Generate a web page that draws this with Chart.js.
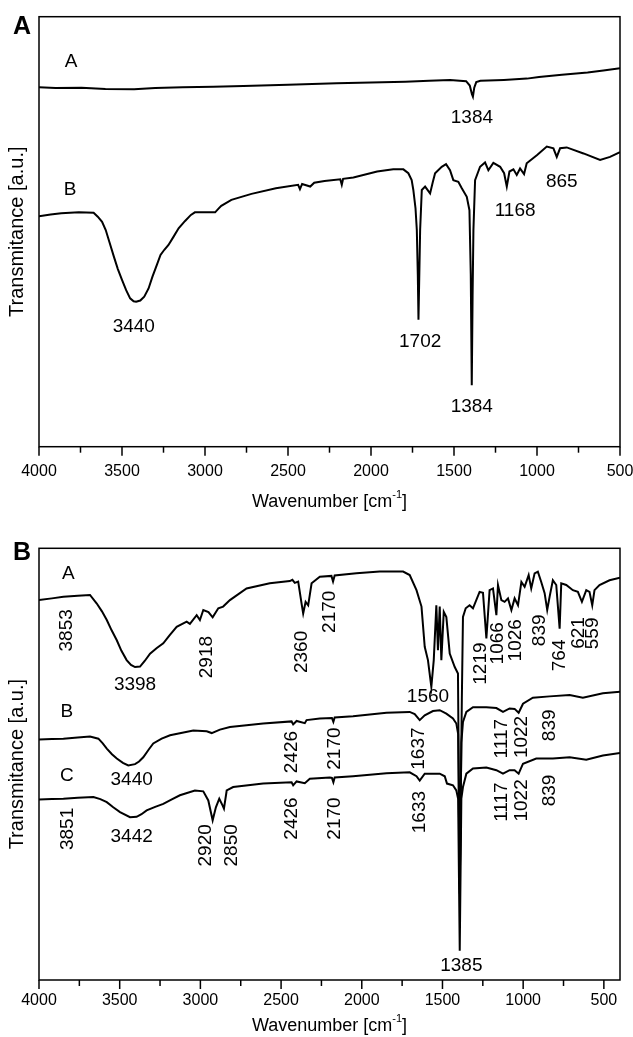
<!DOCTYPE html>
<html>
<head>
<meta charset="utf-8">
<script src="https://cdn.jsdelivr.net/npm/chart.js@4"></script>
<style>
  html, body { margin: 0; padding: 0; background: #fff; }
  body { width: 633px; height: 1037px; position: relative; overflow: hidden; }
  .panel { position: absolute; left: 0; width: 633px; }
  #panel-a { top: 0; height: 515px; }
  #panel-b { top: 515px; height: 522px; }
</style>
</head>
<body>
<div class="panel" id="panel-a"><canvas id="chart-a" width="633" height="515"></canvas></div>
<div class="panel" id="panel-b"><canvas id="chart-b" width="633" height="522"></canvas></div>
<script>
// x axis tick labels (wavenumber, cm-1), minor ticks every 250
const tickValues = [4000, 3500, 3000, 2500, 2000, 1500, 1000, 500];
const minorStep = 250;

// panel A spectra: [wavenumber, transmittance a.u.]
const aSpecA = [[4000,83.6],[3900,83.4],[3744,83.5],[3600,83.2],[3427,83.1],[3300,83.4],[3134,83.6],[2950,83.7],[2768,83.9],[2500,84.2],[2207,84.5],[2000,84.7],[1793,84.9],[1650,85.1],[1524,85.3],[1427,85.0],[1405,84.0],[1392,82.0],[1386,81.4],[1378,83.5],[1366,84.8],[1341,85.1],[1200,85.3],[1061,85.6],[988,86.0],[850,86.5],[695,87.0],[600,87.5],[500,88.0]];

const aSpecB = [[4000,53.6],[3930,54.0],[3866,54.3],[3760,54.5],[3671,54.4],[3646,53.5],[3620,52.3],[3598,50.4],[3575,47.5],[3549,44.2],[3525,41.3],[3500,38.8],[3475,36.4],[3451,34.5],[3430,33.8],[3415,33.7],[3390,34.0],[3366,34.9],[3340,36.8],[3317,39.5],[3290,42.3],[3268,44.6],[3245,45.8],[3220,46.9],[3190,48.8],[3159,50.8],[3120,52.5],[3085,53.9],[3061,54.5],[2939,54.5],[2920,55.3],[2902,56.0],[2841,57.4],[2720,58.8],[2573,60.1],[2439,60.9],[2428,59.9],[2415,61.1],[2366,60.5],[2342,61.4],[2280,61.8],[2185,62.2],[2176,60.9],[2168,62.3],[2106,62.6],[1963,64.0],[1866,64.5],[1805,64.5],[1775,63.6],[1755,62.0],[1745,59.7],[1732,55.5],[1724,50.4],[1718,40.0],[1714,29.5],[1709,40.0],[1704,50.4],[1694,59.7],[1674,60.5],[1644,58.9],[1628,61.5],[1614,63.6],[1574,65.1],[1548,65.7],[1524,64.3],[1504,62.0],[1474,61.6],[1453,60.1],[1423,58.1],[1407,55.0],[1399,40.0],[1393,14.3],[1388,35.0],[1383,50.4],[1373,62.0],[1343,65.1],[1313,66.1],[1293,64.3],[1263,66.0],[1222,65.1],[1198,63.6],[1182,60.5],[1166,64.0],[1142,64.5],[1122,63.2],[1102,64.7],[1078,63.4],[1062,65.9],[1001,67.8],[941,69.8],[901,69.4],[881,67.4],[861,69.4],[821,69.6],[720,68.2],[620,66.7],[560,67.4],[500,68.5]];

// panel A labels: [text, wavenumber, value, vertical]
const aPeaks = [
  ['A', 3807, 89.5, false],
  ['B', 3813, 59.7, false],
  ['1384', 1392, 76.4, false],
  ['865', 851, 61.6, false],
  ['1168', 1132, 54.8, false],
  ['3440', 3429, 27.9, false],
  ['1702', 1704, 24.3, false],
  ['1384', 1393, 9.2, false]
];

// panel B spectra
const bSpecA = [[4000,88.0],[3920,88.4],[3849,88.8],[3760,89.0],[3684,89.2],[3642,87.2],[3610,85.4],[3580,83.4],[3550,81.0],[3518,78.7],[3490,76.3],[3457,74.1],[3430,73.0],[3405,72.5],[3374,72.6],[3345,73.9],[3312,75.6],[3270,76.9],[3230,78.0],[3190,79.9],[3147,81.8],[3085,83.0],[3065,82.5],[3023,84.5],[3003,83.4],[2982,85.7],[2950,85.2],[2924,84.0],[2889,86.1],[2859,86.5],[2817,88.0],[2714,90.7],[2570,91.9],[2446,92.4],[2430,92.7],[2415,92.0],[2394,92.3],[2373,87.2],[2363,84.9],[2348,87.6],[2332,86.8],[2311,91.9],[2260,93.4],[2188,93.6],[2178,92.3],[2168,93.7],[2033,94.2],[1889,94.6],[1744,94.6],[1703,93.8],[1661,90.3],[1630,86.5],[1610,77.2],[1590,74.1],[1569,67.9],[1554,74.1],[1538,86.8],[1528,76.4],[1517,86.5],[1507,74.1],[1492,85.3],[1476,84.1],[1455,75.6],[1424,72.5],[1404,71.0],[1393,21.0],[1380,65.0],[1373,84.1],[1356,86.1],[1332,86.8],[1311,86.1],[1270,89.9],[1249,89.7],[1228,79.1],[1208,90.3],[1187,90.7],[1166,84.5],[1156,91.5],[1135,88.0],[1115,87.6],[1094,88.4],[1073,85.7],[1053,88.4],[1032,86.8],[1011,92.2],[991,91.1],[966,93.8],[950,90.7],[929,94.2],[909,94.6],[888,92.2],[867,89.6],[851,85.7],[836,88.8],[816,92.6],[795,91.5],[774,81.4],[764,91.9],[733,91.5],[692,90.3],[661,89.9],[636,87.6],[609,90.3],[589,89.9],[572,86.8],[558,90.3],[527,91.5],[465,92.6],[400,93.2]];

const bSpecB = [[4000,55.7],[3920,55.8],[3849,55.9],[3760,56.2],[3684,56.4],[3632,55.9],[3605,54.8],[3580,53.6],[3548,52.3],[3518,51.3],[3480,50.3],[3447,49.7],[3405,50.0],[3380,50.6],[3354,51.6],[3320,53.4],[3292,54.8],[3240,55.9],[3188,56.7],[3044,57.8],[2961,57.6],[2930,57.2],[2879,58.0],[2817,58.6],[2611,59.4],[2435,59.9],[2425,59.2],[2404,60.0],[2353,59.5],[2342,60.2],[2260,60.6],[2185,60.7],[2176,59.8],[2168,60.8],[2054,61.1],[1847,61.9],[1703,62.1],[1672,61.6],[1641,60.2],[1610,61.3],[1559,62.3],[1517,62.5],[1476,61.7],[1435,60.6],[1414,59.4],[1403,57.0],[1393,20.0],[1383,55.0],[1373,59.8],[1352,62.1],[1311,63.2],[1228,63.2],[1166,63.0],[1125,62.1],[1084,62.9],[1053,62.8],[1028,61.9],[1001,64.0],[940,65.4],[836,65.7],[712,66.0],[630,65.4],[506,66.4],[400,66.8]];

const bSpecC = [[4000,41.8],[3920,41.9],[3849,42.0],[3760,42.2],[3663,42.4],[3620,41.9],[3580,41.2],[3540,40.0],[3498,38.9],[3436,37.7],[3395,37.8],[3365,38.4],[3333,39.3],[3280,40.1],[3230,40.8],[3180,41.8],[3127,42.8],[3034,43.9],[2982,43.7],[2951,41.6],[2924,37.0],[2904,40.0],[2883,42.0],[2862,40.4],[2854,39.7],[2837,43.9],[2797,44.7],[2611,45.5],[2435,45.8],[2425,45.1],[2404,46.0],[2353,45.6],[2322,46.6],[2198,46.9],[2185,46.8],[2176,45.8],[2168,46.9],[2054,47.2],[1847,47.9],[1703,48.1],[1661,47.2],[1641,46.2],[1610,47.8],[1517,47.8],[1486,47.2],[1472,45.5],[1435,45.1],[1414,43.9],[1403,42.0],[1393,6.8],[1383,42.0],[1373,44.7],[1352,47.8],[1311,49.0],[1228,49.2],[1166,48.6],[1125,47.8],[1084,48.6],[1053,48.6],[1028,47.8],[1001,50.1],[919,51.3],[816,51.3],[712,51.6],[609,51.0],[506,52.0],[400,52.6]];

const bPeaks = [
  ['A', 3818, 94.2, false],
  ['3853', 3828, 81.0, true],
  ['3398', 3405, 68.3, false],
  ['2918', 2961, 74.8, true],
  ['2360', 2373, 76.0, true],
  ['2170', 2198, 85.3, true],
  ['1560', 1590, 65.6, false],
  ['1219', 1265, 73.3, true],
  ['1066', 1156, 78.0, true],
  ['1026', 1047, 78.7, true],
  ['839', 898, 81.0, true],
  ['764', 774, 75.2, true],
  ['621', 657, 80.4, true],
  ['559', 568, 80.3, true],
  ['B', 3828, 62.1, false],
  ['3440', 3426, 46.4, false],
  ['2426', 2435, 52.8, true],
  ['2170', 2167, 53.6, true],
  ['1637', 1645, 53.6, true],
  ['1117', 1135, 55.9, true],
  ['1022', 1011, 56.3, true],
  ['839', 836, 59.0, true],
  ['C', 3828, 47.4, false],
  ['3851', 3824, 35.0, true],
  ['3442', 3426, 33.2, false],
  ['2920', 2966, 31.2, true],
  ['2850', 2807, 31.2, true],
  ['2426', 2435, 37.4, true],
  ['2170', 2167, 37.4, true],
  ['1633', 1641, 38.9, true],
  ['1117', 1135, 41.2, true],
  ['1022', 1011, 41.6, true],
  ['839', 836, 43.9, true],
  ['1385', 1383, 3.3, false]
];

const FONT = '"Liberation Sans", Arial, Helvetica, sans-serif';

const framePlugin = {
  id: 'frame',
  afterDraw(chart, args, opts) {
    const {ctx, chartArea: a, scales: {x, y}} = chart;
    ctx.save();
    ctx.strokeStyle = '#000';
    ctx.fillStyle = '#000';
    ctx.lineWidth = 1.5;
    ctx.strokeRect(a.left, a.top, a.right - a.left, a.bottom - a.top);

    // outward ticks below the bottom axis
    for (let w = x.max; w >= x.min; w -= minorStep) {
      const px = x.getPixelForValue(w);
      const len = (w % 500 === 0) ? 9 : 6;
      ctx.beginPath();
      ctx.moveTo(px, a.bottom);
      ctx.lineTo(px, a.bottom + len);
      ctx.stroke();
    }

    // peak labels
    ctx.font = '19px ' + FONT;
    ctx.textAlign = 'center';
    ctx.textBaseline = 'middle';
    opts.peaks.forEach(([text, w, v, vertical]) => {
      const px = x.getPixelForValue(w);
      const py = y.getPixelForValue(v);
      if (vertical) {
        ctx.save();
        ctx.translate(px, py);
        ctx.rotate(-Math.PI / 2);
        ctx.fillText(text, 0, 0);
        ctx.restore();
      } else {
        ctx.fillText(text, px, py);
      }
    });

    // x title with superscript
    const cx = (a.left + a.right) / 2;
    const ty = a.bottom + opts.titleGap;
    const main = 'Wavenumber [cm';
    ctx.font = '18px ' + FONT;
    const wMain = ctx.measureText(main).width;
    ctx.font = '11px ' + FONT;
    const wSup = ctx.measureText('-1').width;
    ctx.font = '18px ' + FONT;
    const wEnd = ctx.measureText(']').width;
    let sx = cx - (wMain + wSup + wEnd) / 2;
    ctx.textAlign = 'left';
    ctx.fillText(main, sx, ty);
    sx += wMain;
    ctx.font = '11px ' + FONT;
    ctx.fillText('-1', sx, ty - 7);
    sx += wSup;
    ctx.font = '18px ' + FONT;
    ctx.fillText(']', sx, ty);

    // panel letter
    ctx.font = 'bold 25px ' + FONT;
    ctx.textAlign = 'center';
    ctx.fillText(opts.letter, opts.letterX, opts.letterY);
    ctx.restore();
  }
};

function makeChart(canvasId, series, peaks, xMin, padTop, plotBottom, tickPad, titleGap, letter, letterY) {
  const canvas = document.getElementById(canvasId);
  const h = canvas.height;
  return new Chart(canvas.getContext('2d'), {
    type: 'line',
    data: {
      datasets: series.map(s => ({
        data: s.map(p => ({x: p[0], y: p[1]})),
        borderColor: '#000',
        borderWidth: 2,
        pointRadius: 0,
        tension: 0,
        fill: false
      }))
    },
    options: {
      responsive: false,
      animation: false,
      layout: {padding: {top: padTop, right: 13, left: 0, bottom: 0}},
      plugins: {
        legend: {display: false},
        tooltip: {enabled: false},
        frame: {peaks: peaks, letter: letter, letterX: 22, letterY: letterY, titleGap: titleGap}
      },
      scales: {
        x: {
          type: 'linear',
          reverse: true,
          min: xMin,
          max: 4000,
          afterBuildTicks: scale => { scale.ticks = tickValues.map(v => ({value: v})); },
          afterFit: scale => {
            scale.height = h - plotBottom;
            scale.paddingLeft = 0;
            scale.paddingRight = 0;
          },
          grid: {display: false},
          border: {display: false},
          ticks: {
            color: '#000',
            font: {family: FONT, size: 16},
            padding: tickPad,
            maxRotation: 0,
            autoSkip: false,
            callback: v => String(v)
          }
        },
        y: {
          min: 0,
          max: 100,
          afterFit: scale => { scale.width = 39; },
          grid: {display: false},
          border: {display: false},
          ticks: {display: false},
          title: {
            display: true,
            text: 'Transmitance [a.u.]',
            color: '#000',
            font: {family: FONT, size: 20},
            padding: {top: 5, bottom: 0}
          }
        }
      }
    },
    plugins: [framePlugin]
  });
}

makeChart('chart-a', [aSpecA, aSpecB], aPeaks, 500, 16.7, 446.7, 7, 55, 'A', 27);
makeChart('chart-b', [bSpecA, bSpecB, bSpecC], bPeaks, 400, 33.3, 465, 3, 46, 'B', 38);
</script>
</body>
</html>
